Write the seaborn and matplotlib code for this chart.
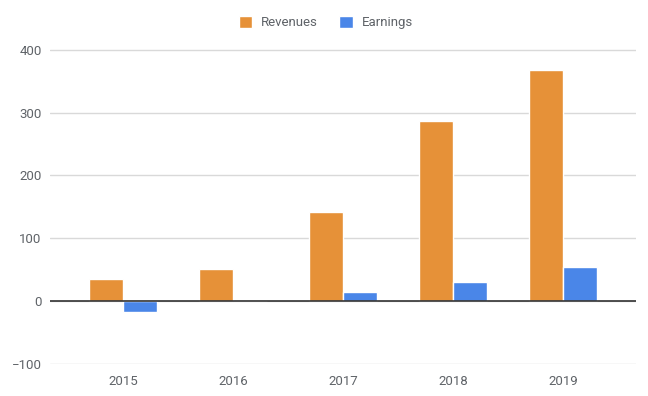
import pandas as pd
import matplotlib
matplotlib.use("Agg")
import matplotlib.pyplot as plt
import seaborn as sns

years = ["2015", "2016", "2017", "2018", "2019"]
revenues = [35, 51, 142, 287, 368]
earnings = [-17, 0, 14, 30, 54]

data = pd.DataFrame({
    "Year": years * 2,
    "Value": revenues + earnings,
    "Series": ["Revenues"] * len(years) + ["Earnings"] * len(years),
})

sns.set_style("white")
plt.rcParams['font.family'] = ['Roboto', 'DejaVu Sans']

fig, ax = plt.subplots(figsize=(6.48, 3.96), dpi=100)
fig.subplots_adjust(left=0.077, right=0.982, top=0.876, bottom=0.08)

sns.barplot(data=data, x="Year", y="Value", hue="Series",
            palette={"Revenues": "#e69138", "Earnings": "#4a86e8"},
            width=0.62, saturation=1, ax=ax, zorder=3)

ax.set_ylim(-101, 401)
ax.set_yticks([-100, 0, 100, 200, 300, 400])
ax.set_xlim(-0.665, 4.665)
ax.grid(axis='y', color='#d9d9d9', linewidth=1, zorder=0)
ax.axhline(0, color='#333333', linewidth=1.2, zorder=4)
sns.despine(ax=ax, left=True, bottom=True, top=True, right=True)
ax.set_xlabel("")
ax.set_ylabel("")
ax.tick_params(axis='both', length=0, labelsize=9.5, labelcolor='#5f6368')
ax.tick_params(axis='y', pad=6)
ax.tick_params(axis='x', pad=8)

ax.legend(loc='center', bbox_to_anchor=(0.503, 0.943), bbox_transform=fig.transFigure,
          ncol=2, frameon=False, fontsize=9.5, labelcolor='#5f6368',
          handlelength=1.0, handleheight=1.0, columnspacing=1.6,
          handletextpad=0.7, borderaxespad=0)

fig.savefig("out.png", dpi=100)
